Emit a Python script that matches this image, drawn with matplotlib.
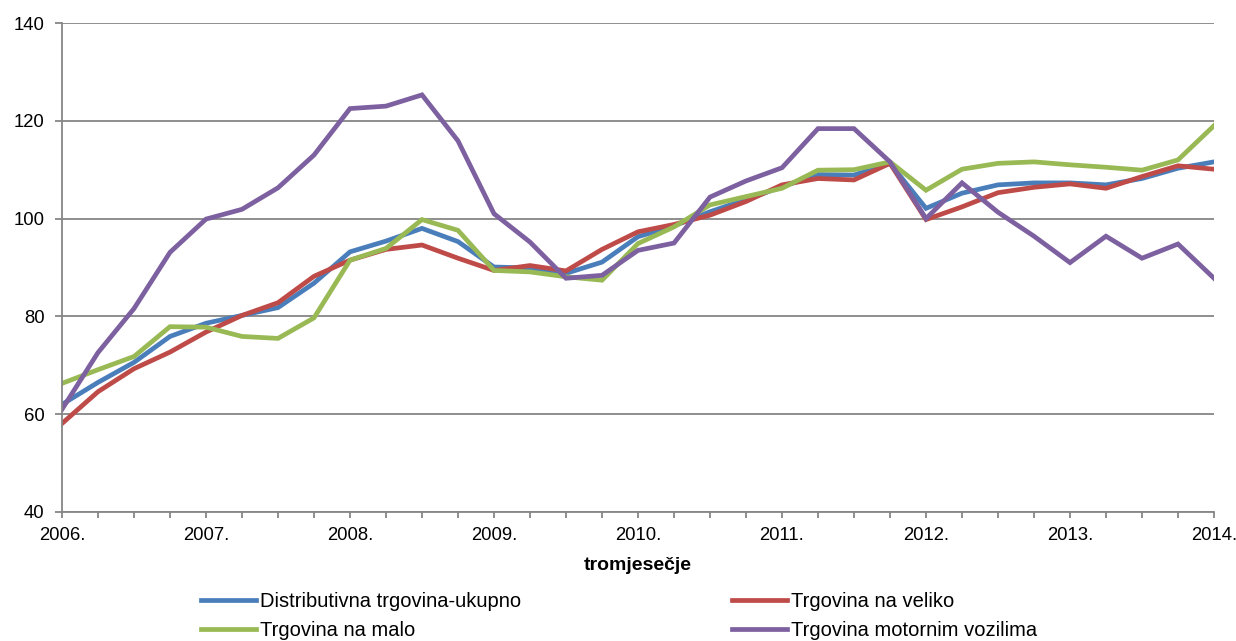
import matplotlib
matplotlib.use("Agg")
import matplotlib.pyplot as plt
import numpy as np

plt.rcParams['font.family'] = ['Liberation Sans', 'DejaVu Sans']

years = ["2006.", "2007.", "2008.", "2009.", "2010.", "2011.", "2012.", "2013.", "2014."]
quarters = list(range(33))  # 2006Q1 .. 2014Q1

ukupno = [62.0, 66.5, 70.6, 75.9, 78.6, 80.2, 81.8, 86.8, 93.2, 95.4, 98.0, 95.3,
          90.1, 89.9, 88.8, 91.1, 96.3, 98.5, 101.4, 103.9, 106.5, 109.0, 108.9, 111.3,
          102.1, 105.2, 106.9, 107.3, 107.3, 106.9, 108.2, 110.3, 111.6]
veliko = [58.1, 64.6, 69.3, 72.7, 76.8, 80.2, 82.8, 88.2, 91.5, 93.7, 94.6, 91.9,
          89.4, 90.4, 89.3, 93.7, 97.3, 98.8, 100.7, 103.5, 106.9, 108.2, 107.9, 111.3,
          99.8, 102.4, 105.3, 106.4, 107.1, 106.2, 108.6, 110.8, 110.1]
malo = [66.3, 69.1, 71.8, 77.9, 77.8, 75.9, 75.5, 79.7, 91.5, 93.9, 99.8, 97.6,
        89.4, 89.1, 88.1, 87.4, 94.9, 98.3, 102.8, 104.5, 106.2, 109.9, 110.0, 111.6,
        105.8, 110.1, 111.3, 111.6, 111.0, 110.5, 109.9, 112.0, 119.0]
motorna = [61.0, 72.6, 81.6, 93.1, 99.9, 101.9, 106.3, 113.0, 122.5, 123.0, 125.3, 115.9,
           101.0, 95.2, 87.8, 88.4, 93.5, 95.0, 104.4, 107.7, 110.4, 118.4, 118.4, 111.6,
           100.0, 107.3, 101.3, 96.4, 91.0, 96.4, 91.9, 94.8, 87.8]

names = ["Distributivna trgovina-ukupno", "Trgovina na veliko",
         "Trgovina na malo", "Trgovina motornim vozilima"]
colors = ["#4A7EBB", "#BE4B48", "#98B954", "#7D60A0"]
series = [ukupno, veliko, malo, motorna]

fig = plt.figure(figsize=(12.36, 6.41), dpi=100)
ax = fig.add_axes([62/1236, 1-512/641, (1214-62)/1236, (512-23)/641])

lines = []
for s, c, n in zip(series, colors, names):
    ln, = ax.plot(quarters, s, color=c, lw=3.4, label=n, solid_joinstyle='miter')
    lines.append(ln)

ax.set_xlim(0, 32)
ax.set_ylim(40, 140)
ax.set_yticks([40, 60, 80, 100, 120, 140])
ax.set_xticks(range(0, 33, 4))
ax.set_xticklabels(years)
ax.set_xticks(range(33), minor=True)
ax.grid(axis='y', color='#868686', lw=1.3)
ax.set_axisbelow(True)
for sp in ['top', 'right']:
    ax.spines[sp].set_visible(False)
for sp in ['left', 'bottom']:
    ax.spines[sp].set_color('#868686')
    ax.spines[sp].set_linewidth(1.3)
ax.tick_params(axis='both', which='both', color='#868686', width=1.3, labelsize=13.3)
ax.tick_params(axis='x', which='both', length=4, direction='out', pad=7)
ax.tick_params(axis='y', length=5, pad=7.5)
ax.set_xlabel("tromjesečje", fontsize=14, fontweight='bold', labelpad=9)

order = [0, 2, 1, 3]
fig.legend([lines[i] for i in order], [names[i] for i in order], ncol=2,
           loc='center', bbox_to_anchor=(0.5008, 1-616/641), frameon=False,
           fontsize=14.5, handlelength=2.73, handletextpad=0.17,
           columnspacing=10.5, labelspacing=0.5)

fig.savefig("out.png", dpi=100)
